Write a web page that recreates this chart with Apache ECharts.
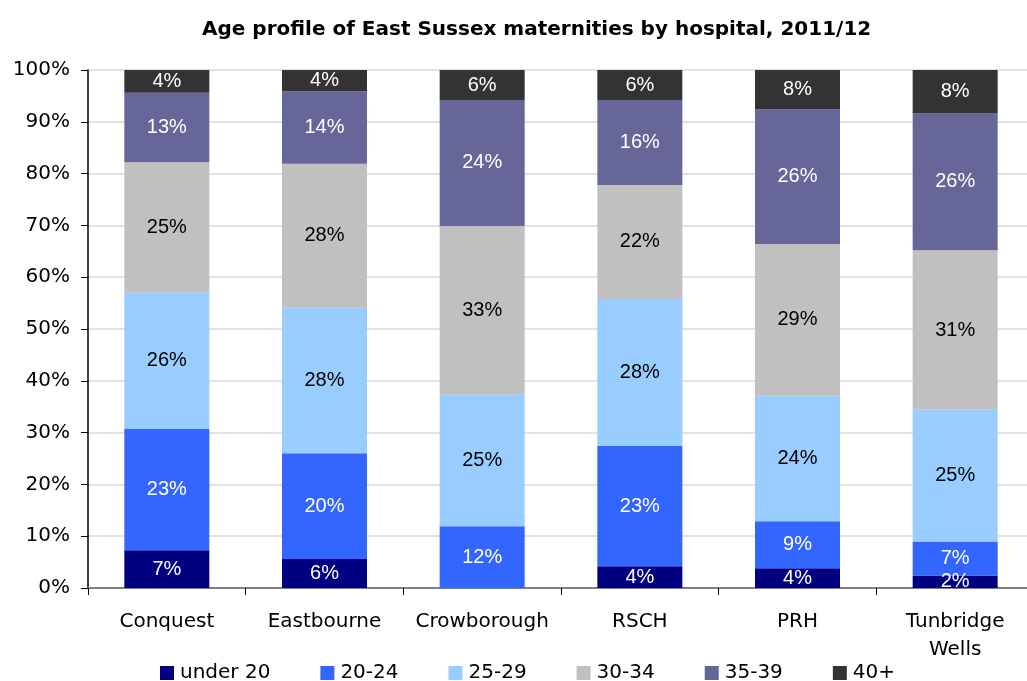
<!DOCTYPE html>
<html>
<head>
<meta charset="utf-8">
<title>Age profile of East Sussex maternities</title>
<script src="https://cdn.jsdelivr.net/npm/echarts@6/dist/echarts.min.js"></script>
<style>
	html, body { margin: 0; padding: 0; background: #fff; }
	#chart { width: 1027px; height: 681px; }
</style>
</head>
<body>
<div id="chart"></div>
<script>
/* 数据 */
var hospitals = ['Conquest', 'Eastbourne', 'Crowborough', 'RSCH', 'PRH', 'Tunbridge\nWells'];
var ageGroups = ['under 20', '20-24', '25-29', '30-34', '35-39', '40+'];
var under20 = [7.3, 5.6, 0, 4.2, 3.8, 2.4];
var age20to24 = [23.4, 20.4, 11.9, 23.2, 9.1, 6.6];
var age25to29 = [26.4, 28.1, 25.4, 28.4, 24.2, 25.4];
var age30to34 = [25.1, 27.8, 32.6, 22.0, 29.3, 30.8];
var age35to39 = [13.4, 14.0, 24.3, 16.4, 26.0, 26.4];
var age40plus = [4.4, 4.1, 5.8, 5.8, 7.6, 8.4];
var yTicks = [0, 10, 20, 30, 40, 50, 60, 70, 80, 90, 100];

var seriesData = [under20, age20to24, age25to29, age30to34, age35to39, age40plus];
var colors = ['#000080', '#3366ff', '#99ccff', '#c0c0c0', '#666699', '#333333'];
var labelColors = ['#fff', '#fff', '#000', '#000', '#fff', '#fff'];
// 坐标轴文字偏宽，用DejaVu；柱内标签用Liberation
var axisFont = '"DejaVu Sans", sans-serif';
var labelFont = '"Liberation Sans", Arial, sans-serif';

var chart = echarts.init(document.getElementById('chart'));

var series = [];
for (var i = 0; i < ageGroups.length; i++) {
	series.push({
		name: ageGroups[i],
		type: 'bar',
		stack: 'total',
		barWidth: 85,
		itemStyle: { color: colors[i] },
		label: {
			show: true,
			position: 'inside',
			color: labelColors[i],
			fontFamily: labelFont,
			fontSize: 20,
			formatter: function(p) {
				// 0值不显示
				return p.value > 0 ? Math.round(p.value) + '%' : '';
			}
		},
		emphasis: { disabled: true },
		data: seriesData[i]
	});
}

var option = {
	animation: false,
	color: colors,
	title: {
		text: 'Age profile of East Sussex maternities by hospital, 2011/12',
		left: 202,
		top: 20,
		padding: 0,
		textStyle: { fontFamily: axisFont, fontSize: 20, fontWeight: 'bold', color: '#000' }
	},
	legend: {
		data: ageGroups,
		top: 663,
		left: 160,
		padding: 0,
		itemWidth: 14,
		itemHeight: 14,
		itemGap: 50,
		icon: 'rect',
		textStyle: { fontFamily: axisFont, fontSize: 20, color: '#000', padding: [0, 0, 0, 1] }
	},
	grid: {
		left: 88,
		right: -7,
		top: 70,
		bottom: 93,
		outerBoundsMode: 'none'
	},
	xAxis: {
		type: 'category',
		data: hospitals,
		axisLine: { lineStyle: { color: '#808080', width: 2 } },
		axisTick: { show: true, length: 7, lineStyle: { color: '#000' } },
		axisLabel: {
			color: '#000',
			fontFamily: axisFont,
			fontSize: 20,
			margin: 20,
			lineHeight: 28,
			interval: 0
		}
	},
	yAxis: {
		type: 'value',
		min: yTicks[0],
		max: yTicks[yTicks.length - 1],
		interval: 10,
		axisLine: { show: true, lineStyle: { color: '#000', width: 1.5 } },
		axisTick: { show: true, length: 7, lineStyle: { color: '#000' } },
		axisLabel: {
			color: '#000',
			fontFamily: axisFont,
			fontSize: 20,
			margin: 18,
			formatter: '{value}%'
		},
		splitLine: { lineStyle: { color: '#d9d9d9', width: 1.5 } }
	},
	series: series
};

chart.setOption(option);
</script>
</body>
</html>
